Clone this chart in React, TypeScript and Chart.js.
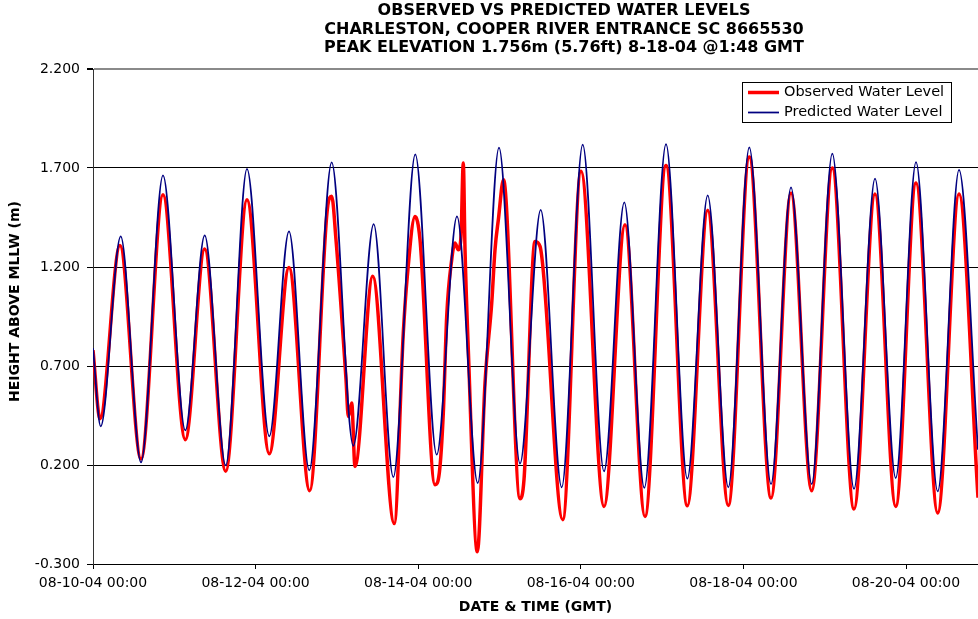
import React, { useEffect, useRef } from 'react';
import { Chart, registerables } from 'chart.js';

Chart.register(...registerables);

// ---------- text ----------
const chartTitle = [
  'OBSERVED VS PREDICTED WATER LEVELS',
  'CHARLESTON, COOPER RIVER ENTRANCE SC 8665530',
  'PEAK ELEVATION 1.756m (5.76ft) 8-18-04 @1:48 GMT',
];
const legendLabels = ['Observed Water Level', 'Predicted Water Level'];
const yAxisTitle = 'HEIGHT ABOVE MLLW (m)';
const xAxisTitle = 'DATE & TIME (GMT)';

// ---------- axes ----------
const xTickHours = [0, 48, 96, 144, 192, 240];
const xTickLabels = [
  '08-10-04 00:00',
  '08-12-04 00:00',
  '08-14-04 00:00',
  '08-16-04 00:00',
  '08-18-04 00:00',
  '08-20-04 00:00',
];
const xMaxHours = 261.25;
const yTicks = [-0.3, 0.2, 0.7, 1.2, 1.7, 2.2];

// ---------- data (hours since 08-10-04 00:00 GMT, metres above MLLW) ----------
const obsHours = [
  0, 2.07, 7.97, 14.17, 20.66, 27.25, 32.97, 39.17, 45.46, 52.04, 57.86, 63.97,
  69.17, 70.46, 71.73, 74.69, 75.37, 76.37, 77.34, 82.57, 88.94, 91.6, 92.78,
  95.06, 96.53, 100.96, 102.23, 103.41, 104.41, 105.89, 106.86, 107.84, 108.63,
  109.31, 109.82, 110.79, 113.45, 115.72, 117.7, 118.67, 119.7, 121.18, 126.05,
  127.23, 130.48, 131.96, 138.66, 144.06, 150.85, 157.05, 162.95, 169.15,
  175.44, 181.46, 187.54, 193.74, 200.15, 206.05, 212.16, 218.24, 224.65,
  230.85, 236.96, 242.95, 249.36, 255.65, 261.25,
];
const obsLevels = [
  0.78, 0.434, 1.309, 0.23, 1.565, 0.328, 1.291, 0.168, 1.54, 0.257, 1.198, 0.07,
  1.49, 1.557, 1.338, 0.631, 0.445, 0.513, 0.193, 1.153, -0.096, 0.867, 1.153,
  1.455, 1.338, 0.1, 0.16, 0.463, 0.95, 1.237, 1.321, 1.287, 1.355,
  1.725, 1.287, 0.782, -0.238, 0.614, 1.018, 1.287, 1.445, 1.641, 0.03,
  0.126, 1.329, 1.304, -0.076, 1.683, -0.009, 1.414, -0.06, 1.712,
  -0.006, 1.486, -0.004, 1.756, 0.033, 1.574, 0.07, 1.7, -0.022,
  1.569, -0.009, 1.624, -0.042, 1.569, 0.035,
];
const predHours = [
  0, 2.27, 8.18, 14.17, 20.66, 27.25, 32.97, 39.17, 45.46, 52.04, 57.86, 63.85,
  70.46, 76.84, 82.86, 88.65, 95.14, 101.46, 107.45, 113.56, 119.85, 126.05,
  132.16, 138.36, 144.56, 150.85, 156.84, 162.75, 169.15, 175.44, 181.46,
  187.54, 193.74, 200.15, 206.05, 212.16, 218.24, 224.65, 230.85, 236.96,
  242.95, 249.36, 255.65, 261.25,
];
const predLevels = [
  0.79, 0.395, 1.355, 0.213, 1.663, 0.375, 1.36, 0.198, 1.695, 0.345, 1.38, 0.173,
  1.728, 0.297, 1.417, 0.139, 1.769, 0.252, 1.456, 0.109, 1.803, 0.207,
  1.489, 0.087, 1.818, 0.168, 1.526, 0.084, 1.821, 0.131, 1.562,
  0.087, 1.804, 0.104, 1.602, 0.104, 1.772, 0.079, 1.646, 0.134,
  1.73, 0.067, 1.691, 0.277,
];

const OBS_COLOR = '#FF0000';
const PRED_COLOR = '#000080';
const FONT = '"DejaVu Sans", "Liberation Sans", Arial, sans-serif';

const decorPlugin = {
  id: 'decor',
  afterDraw(chart: any) {
    const ctx = chart.ctx as CanvasRenderingContext2D;
    ctx.save();
    // main title
    ctx.fillStyle = '#000';
    ctx.textAlign = 'center';
    ctx.textBaseline = 'middle';
    ctx.font = `bold 16px ${FONT}`;
    chartTitle.forEach((t, i) => ctx.fillText(t, 564, 11 + i * 18.5));

    // y axis title
    ctx.save();
    ctx.translate(15.5, 301.5);
    ctx.rotate(-Math.PI / 2);
    ctx.font = `bold 14px ${FONT}`;
    ctx.fillText(yAxisTitle, 0, 0);
    ctx.restore();

    // legend box
    const bx = 742.5, by = 82.5, bw = 209, bh = 40;
    ctx.fillStyle = '#fff';
    ctx.fillRect(bx, by, bw, bh);
    ctx.strokeStyle = '#000';
    ctx.lineWidth = 1;
    ctx.strokeRect(bx, by, bw, bh);
    const rows = [
      { label: legendLabels[0], color: OBS_COLOR, width: 3.5, y: 92.5 },
      { label: legendLabels[1], color: PRED_COLOR, width: 1.75, y: 112.5 },
    ];
    ctx.textAlign = 'left';
    ctx.font = `14.5px ${FONT}`;
    rows.forEach((r) => {
      ctx.strokeStyle = r.color;
      ctx.lineWidth = r.width;
      ctx.beginPath();
      ctx.moveTo(748, r.y);
      ctx.lineTo(779, r.y);
      ctx.stroke();
      ctx.fillStyle = '#000';
      ctx.fillText(r.label, 784, r.y);
    });
    ctx.restore();
  },
};

export default function App() {
  const canvasRef = useRef<HTMLCanvasElement | null>(null);

  useEffect(() => {
    if (!canvasRef.current) return;
    const chart = new Chart(canvasRef.current, {
      type: 'line',
      data: {
        datasets: [
          {
            label: legendLabels[1],
            data: predHours.map((h, i) => ({ x: h, y: predLevels[i] })),
            borderColor: PRED_COLOR,
            borderWidth: 1.75,
            pointRadius: 0,
            cubicInterpolationMode: 'monotone',
            fill: false,
            order: 1,
          },
          {
            label: legendLabels[0],
            data: obsHours.map((h, i) => ({ x: h, y: obsLevels[i] })),
            borderColor: OBS_COLOR,
            borderWidth: 3.5,
            pointRadius: 0,
            cubicInterpolationMode: 'monotone',
            fill: false,
            order: 2,
          },
        ],
      },
      options: {
        responsive: false,
        animation: false,
        devicePixelRatio: 1,
        layout: { padding: { top: 69, left: 0, right: 0, bottom: 0 } },
        plugins: {
          legend: { display: false },
          title: { display: false },
          tooltip: { enabled: false },
        },
        scales: {
          x: {
            type: 'linear',
            min: 0,
            max: xMaxHours,
            afterBuildTicks: (scale: any) => {
              scale.ticks = xTickHours.map((v) => ({ value: v }));
            },
            afterFit: (scale: any) => {
              scale.height = 55;
            },
            ticks: {
              autoSkip: false,
              maxRotation: 0,
              padding: 6,
              color: '#000',
              font: { family: FONT, size: 14 },
              callback: (v: any) => {
                const i = xTickHours.indexOf(Number(v));
                return i >= 0 ? xTickLabels[i] : '';
              },
            },
            grid: {
              drawOnChartArea: false,
              drawTicks: true,
              tickLength: 5,
              color: '#000',
            },
            border: { display: true, color: '#000', width: 1 },
            title: {
              display: true,
              text: xAxisTitle,
              color: '#000',
              font: { family: FONT, size: 14, weight: 'bold' },
              padding: { top: 0, bottom: 3 },
            },
          },
          y: {
            type: 'linear',
            min: -0.3,
            max: 2.2,
            afterBuildTicks: (scale: any) => {
              scale.ticks = yTicks.map((v) => ({ value: v }));
            },
            afterFit: (scale: any) => {
              scale.width = 93;
            },
            ticks: {
              padding: 7,
              color: '#000',
              font: { family: FONT, size: 14 },
              callback: (v: any) => Number(v).toFixed(3),
            },
            grid: {
              drawTicks: true,
              tickLength: 6,
              tickColor: '#000',
              color: (c: any) =>
                c.tick && Math.abs(c.tick.value - 2.2) < 1e-6 ? '#8a8a8a' : '#000',
              lineWidth: (c: any) =>
                c.tick && Math.abs(c.tick.value - 2.2) < 1e-6 ? 2 : 1,
            },
            border: { display: true, color: '#333', width: 1 },
          },
        },
      },
      plugins: [decorPlugin],
    } as any);
    return () => chart.destroy();
  }, []);

  return (
    <div style={{ position: 'fixed', left: 0, top: 0, width: 978, height: 619, background: '#fff' }}>
      <canvas ref={canvasRef} width={978} height={619} style={{ display: 'block' }} />
    </div>
  );
}
